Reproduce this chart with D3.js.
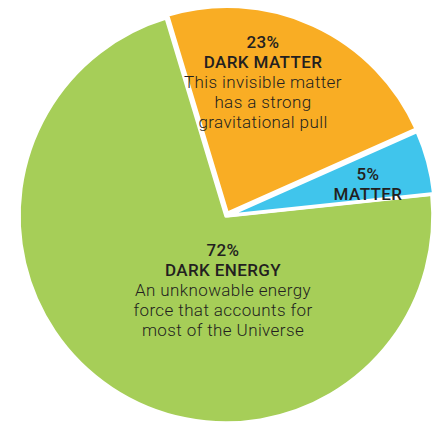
<!DOCTYPE html>
<html>
<head>
<meta charset="utf-8">
<script src="https://cdn.jsdelivr.net/npm/d3@7"></script>
<style>
  html, body { margin: 0; padding: 0; background: #fff; }
  svg { display: block; }
  text { font-family: Roboto, "DejaVu Sans", sans-serif; fill: #231f20; }
</style>
</head>
<body>
<svg id="chart" width="446" height="434"></svg>
<script>
// Composition of the Universe
const names    = ["DARK ENERGY", "DARK MATTER", "MATTER"];
const shares   = [72, 23, 5];
const captions = [
  ["An unknowable energy", "force that accounts for", "most of the Universe"],
  ["This invisible matter", "has a strong", "gravitational pull"],
  []
];
const colors   = ["#a6ce58", "#f9ad24", "#40c5ec"];

const cx = 226, cy = 216, R = 207;
const deg = Math.PI / 180;
const start = 84 * deg;

// how far each wedge is pulled out from the centre
const explode = [0, 3, 2];
// label block anchors (centre x, first baseline y)
const labelAt = [[223, 256], [263, 48], [368, 180]];

const svg = d3.select("#chart");
const g = svg.append("g").attr("transform", `translate(${cx},${cy})`);

const pie = d3.pie().sort(null).value(d => d)
  .startAngle(start).endAngle(start + 2 * Math.PI);
const arc = d3.arc().innerRadius(0).outerRadius(R);
const arcs = pie(shares);

g.selectAll("path.slice")
  .data(arcs)
  .join("path")
  .attr("class", "slice")
  .attr("transform", (d, i) => {
    const a = (d.startAngle + d.endAngle) / 2;
    return `translate(${Math.sin(a) * explode[i]},${-Math.cos(a) * explode[i]})`;
  })
  .attr("d", arc)
  .attr("fill", (d, i) => colors[i])
  .attr("stroke", "#fff")
  .attr("stroke-width", 3.5)
  .attr("stroke-linejoin", "round");

// labels
const lh = 20;
names.forEach((name, i) => {
  const [x, y] = labelAt[i];
  const t = svg.append("text").attr("text-anchor", "middle")
    .attr("font-size", 17).attr("letter-spacing", 0.4);
  t.append("tspan").attr("x", x).attr("y", y)
    .attr("font-weight", 500).text(shares[i] + "%");
  t.append("tspan").attr("x", x).attr("y", y + lh)
    .attr("font-weight", 500).text(name);
  captions[i].forEach((line, k) => {
    t.append("tspan").attr("x", x).attr("y", y + lh * (k + 2))
      .attr("font-weight", 300).text(line);
  });
});
</script>
</body>
</html>
